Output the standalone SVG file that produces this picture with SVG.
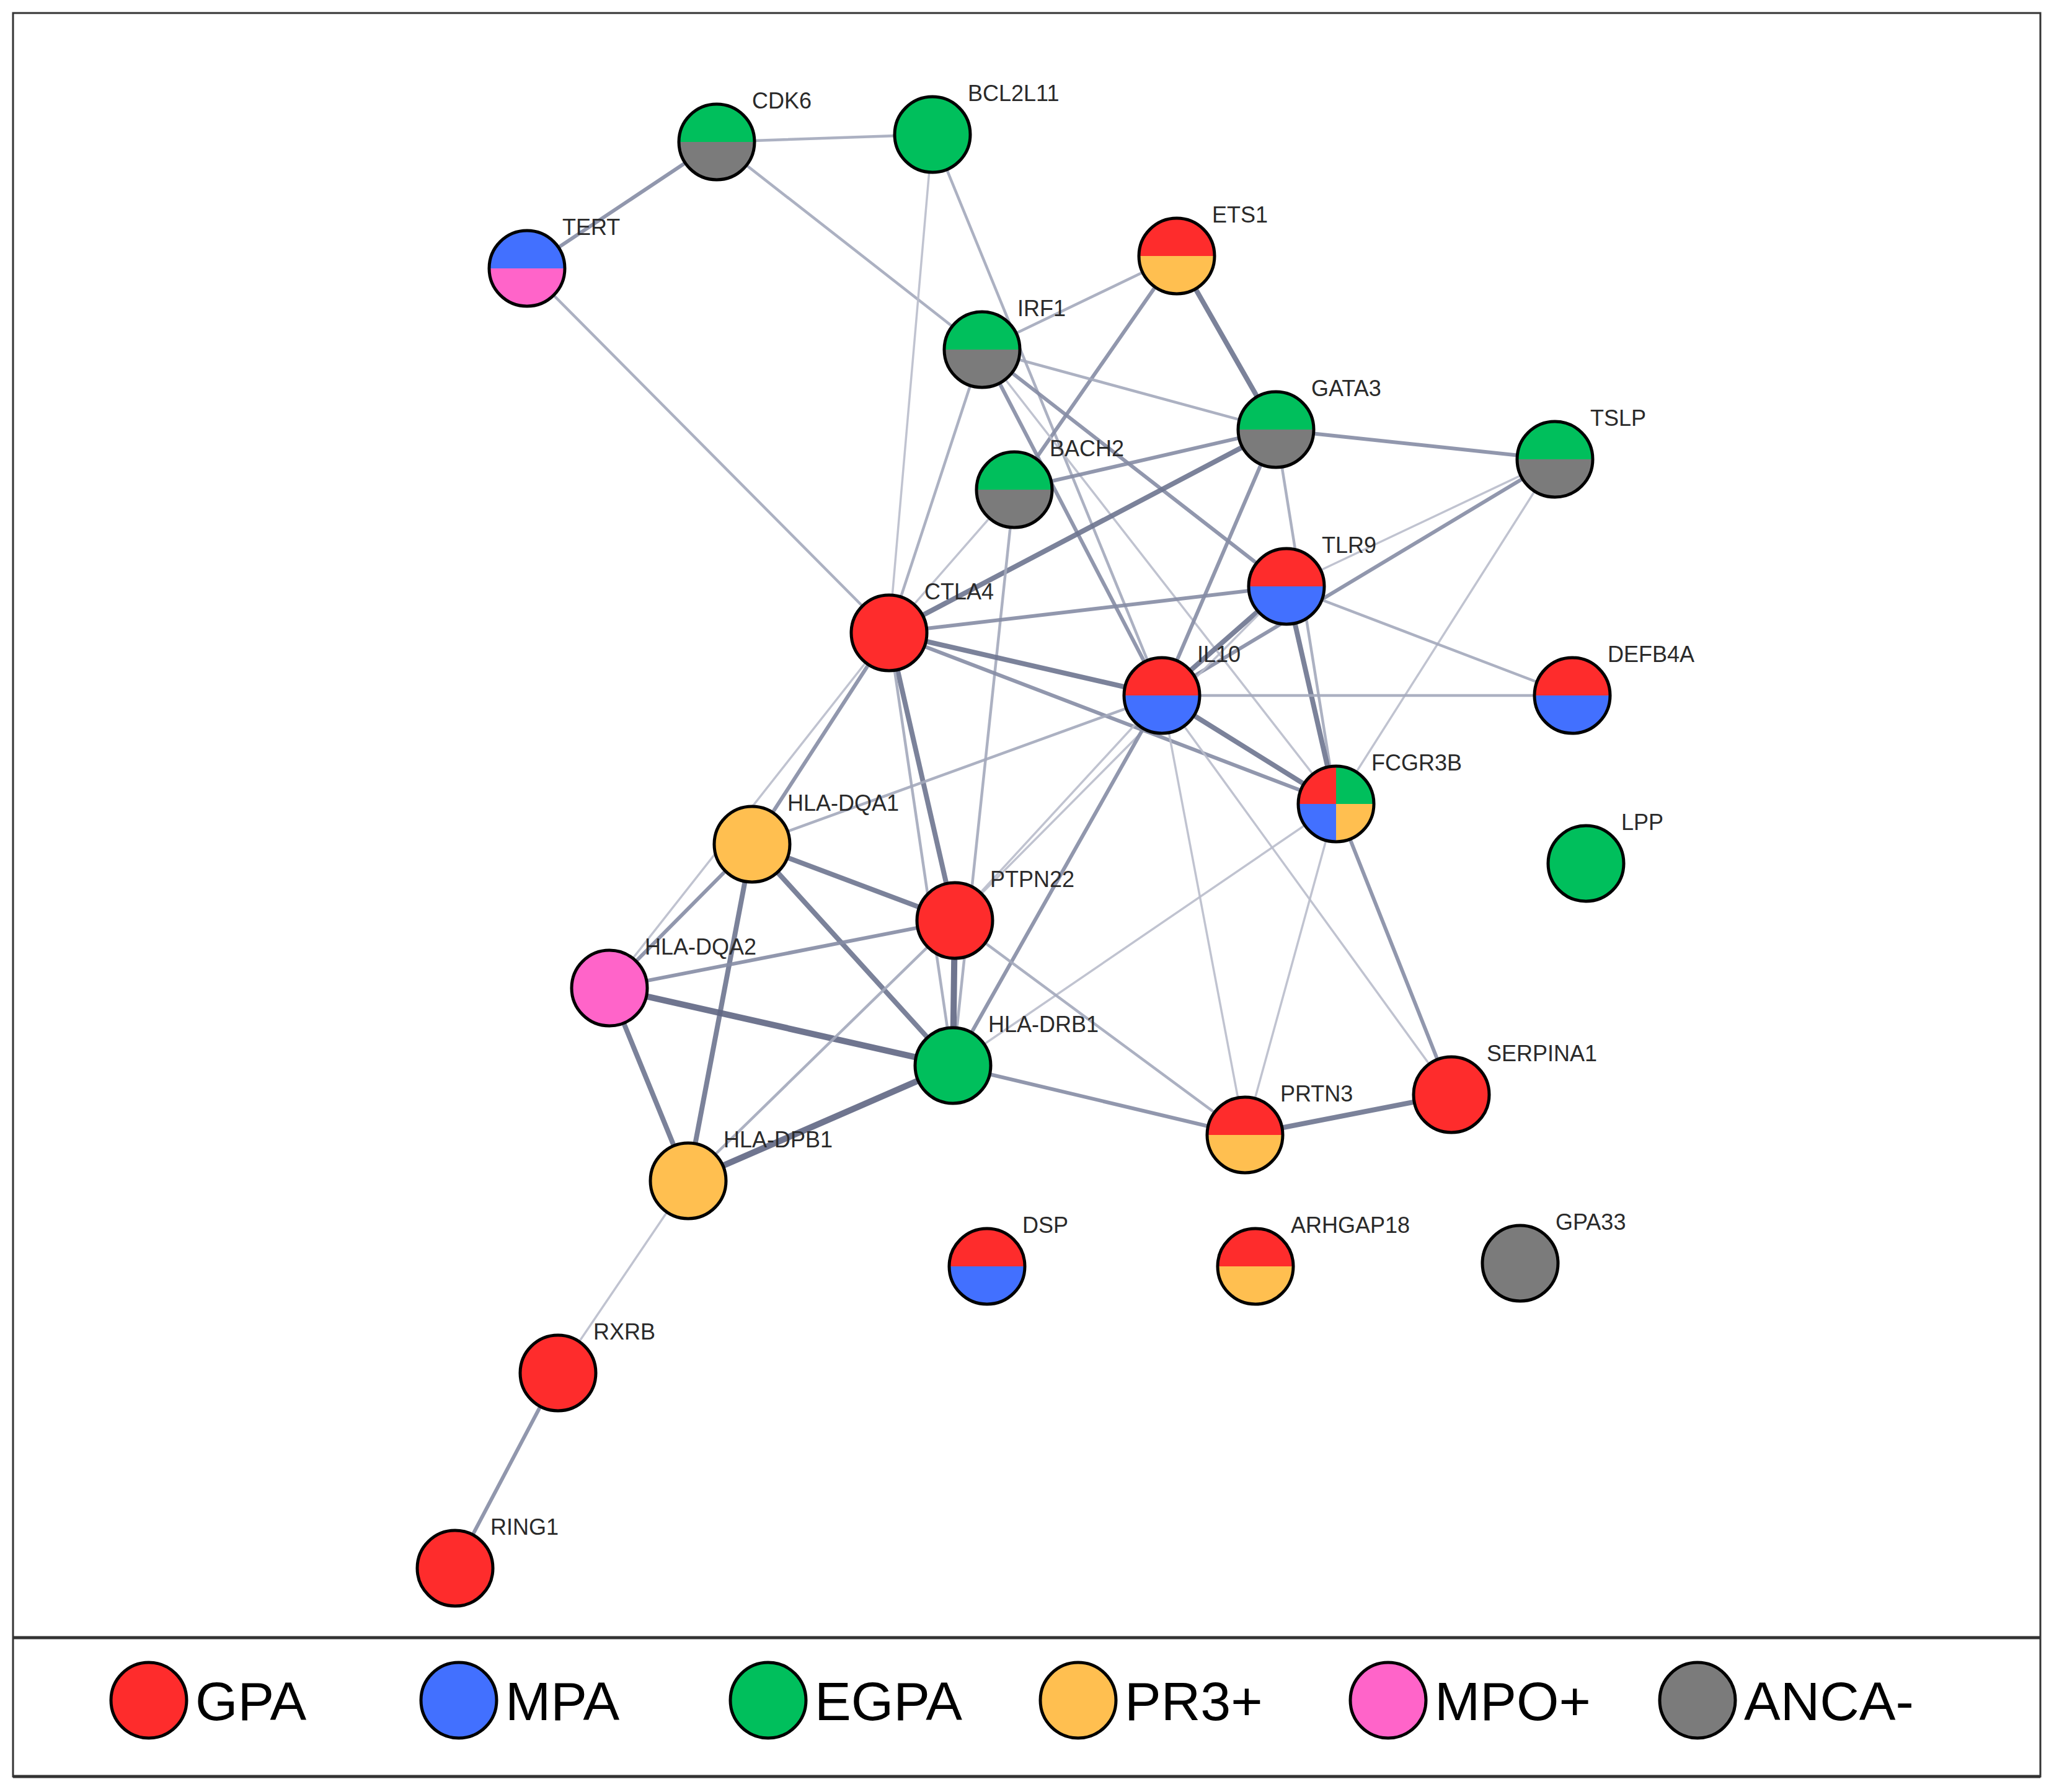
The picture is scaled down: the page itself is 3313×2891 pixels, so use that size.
<svg xmlns="http://www.w3.org/2000/svg" xmlns:xlink="http://www.w3.org/1999/xlink" width="3313" height="2891" viewBox="0 0 3313 2891">
<style>
.e{fill:none;stroke-linecap:round}
.e1{stroke:#b9bdcb;stroke-width:3.5;stroke-opacity:.9}
.e2{stroke:#a3a9bb;stroke-width:4.5;stroke-opacity:.9}
.e3{stroke:#858ca4;stroke-width:6;stroke-opacity:.9}
.e4{stroke:#6d748f;stroke-width:8;stroke-opacity:.9}
.e5{stroke:#5f6683;stroke-width:10;stroke-opacity:.9}
.ring{fill:none;stroke:#000;stroke-width:5}
.lbl{font-family:"Liberation Sans",Arial,sans-serif;font-size:36px;fill:#2a2a2a}
.leg{font-family:"Liberation Sans",Arial,sans-serif;font-size:88px;fill:#000}
.gpa{fill:#fe2c2c}.mpa{fill:#4270ff}.egpa{fill:#00bf5c}.pr3{fill:#ffbf50}.mpo{fill:#ff64c9}.anca{fill:#7b7b7b}
</style>
<defs>
<path id="ht" d="M-61,0 A61,61 0 0 1 61,0 Z"/>
<path id="hb" d="M-61,0 A61,61 0 0 0 61,0 Z"/>
<circle id="full" r="61"/>
<path id="qtl" d="M0,0 L-61,0 A61,61 0 0 1 0,-61 Z"/>
<path id="qtr" d="M0,0 L0,-61 A61,61 0 0 1 61,0 Z"/>
<path id="qbl" d="M0,0 L0,61 A61,61 0 0 1 -61,0 Z"/>
<path id="qbr" d="M0,0 L61,0 A61,61 0 0 1 0,61 Z"/>
</defs>
<rect x="0" y="0" width="3313" height="2891" fill="#fff"/>
<rect x="21" y="21" width="3270" height="2845" fill="none" stroke="#333" stroke-width="3"/>
<line x1="21" y1="2642" x2="3291" y2="2642" stroke="#333" stroke-width="5"/>
<line x1="21" y1="2866" x2="3291" y2="2866" stroke="#333" stroke-width="5"/>

<g id="connectors">
<line class="e e2" x1="1156" y1="229" x2="1504" y2="217"/>
<line class="e e3" x1="1156" y1="229" x2="850" y2="433"/>
<line class="e e2" x1="1156" y1="229" x2="1584" y2="564"/>
<line class="e e2" x1="850" y1="433" x2="1434" y2="1021"/>
<line class="e e1" x1="1504" y1="217" x2="1434" y2="1021"/>
<line class="e e2" x1="1504" y1="217" x2="1874" y2="1122"/>
<line class="e e2" x1="1898" y1="413" x2="1584" y2="564"/>
<line class="e e4" x1="1898" y1="413" x2="2058" y2="693"/>
<line class="e e3" x1="1898" y1="413" x2="1636" y2="790"/>
<line class="e e2" x1="1584" y1="564" x2="2058" y2="693"/>
<line class="e e3" x1="1584" y1="564" x2="2075" y2="946"/>
<line class="e e3" x1="1584" y1="564" x2="1874" y2="1122"/>
<line class="e e2" x1="1584" y1="564" x2="1434" y2="1021"/>
<line class="e e1" x1="1584" y1="564" x2="2155" y2="1297"/>
<line class="e e3" x1="2058" y1="693" x2="2508" y2="741"/>
<line class="e e3" x1="2058" y1="693" x2="1636" y2="790"/>
<line class="e e4" x1="2058" y1="693" x2="1434" y2="1021"/>
<line class="e e3" x1="2058" y1="693" x2="1874" y2="1122"/>
<line class="e e2" x1="2058" y1="693" x2="2155" y2="1297"/>
<line class="e e1" x1="2508" y1="741" x2="2075" y2="946"/>
<line class="e e3" x1="2508" y1="741" x2="1874" y2="1122"/>
<line class="e e1" x1="2508" y1="741" x2="2155" y2="1297"/>
<line class="e e1" x1="1636" y1="790" x2="1434" y2="1021"/>
<line class="e e2" x1="1636" y1="790" x2="1537" y2="1719"/>
<line class="e e3" x1="1434" y1="1021" x2="2075" y2="946"/>
<line class="e e4" x1="1434" y1="1021" x2="1874" y2="1122"/>
<line class="e e3" x1="1434" y1="1021" x2="2155" y2="1297"/>
<line class="e e4" x1="1434" y1="1021" x2="1540" y2="1485"/>
<line class="e e2" x1="1434" y1="1021" x2="1537" y2="1719"/>
<line class="e e3" x1="1434" y1="1021" x2="1213" y2="1362"/>
<line class="e e1" x1="1434" y1="1021" x2="983" y2="1594"/>
<line class="e e4" x1="2075" y1="946" x2="1874" y2="1122"/>
<line class="e e1" x1="2075" y1="946" x2="1540" y2="1485"/>
<line class="e e4" x1="2075" y1="946" x2="2155" y2="1297"/>
<line class="e e2" x1="2075" y1="946" x2="2536" y2="1122"/>
<line class="e e2" x1="1874" y1="1122" x2="2536" y2="1122"/>
<line class="e e4" x1="1874" y1="1122" x2="2155" y2="1297"/>
<line class="e e2" x1="1874" y1="1122" x2="1213" y2="1362"/>
<line class="e e1" x1="1874" y1="1122" x2="1540" y2="1485"/>
<line class="e e3" x1="1874" y1="1122" x2="1537" y2="1719"/>
<line class="e e1" x1="1874" y1="1122" x2="2008" y2="1831"/>
<line class="e e1" x1="1874" y1="1122" x2="2341" y2="1766"/>
<line class="e e3" x1="2155" y1="1297" x2="2341" y2="1766"/>
<line class="e e1" x1="2155" y1="1297" x2="2008" y2="1831"/>
<line class="e e1" x1="2155" y1="1297" x2="1537" y2="1719"/>
<line class="e e4" x1="1213" y1="1362" x2="1540" y2="1485"/>
<line class="e e4" x1="1213" y1="1362" x2="1537" y2="1719"/>
<line class="e e3" x1="1213" y1="1362" x2="983" y2="1594"/>
<line class="e e4" x1="1213" y1="1362" x2="1110" y2="1905"/>
<line class="e e3" x1="983" y1="1594" x2="1540" y2="1485"/>
<line class="e e5" x1="983" y1="1594" x2="1537" y2="1719"/>
<line class="e e4" x1="983" y1="1594" x2="1110" y2="1905"/>
<line class="e e5" x1="1540" y1="1485" x2="1537" y2="1719"/>
<line class="e e2" x1="1540" y1="1485" x2="1110" y2="1905"/>
<line class="e e2" x1="1540" y1="1485" x2="2008" y2="1831"/>
<line class="e e5" x1="1537" y1="1719" x2="1110" y2="1905"/>
<line class="e e3" x1="1537" y1="1719" x2="2008" y2="1831"/>
<line class="e e4" x1="2008" y1="1831" x2="2341" y2="1766"/>
<line class="e e1" x1="1110" y1="1905" x2="900" y2="2215"/>
<line class="e e3" x1="900" y1="2215" x2="734" y2="2530"/>
</g>

<g id="node-CDK6" transform="translate(1156,229)"><use href="#ht" class="egpa"/><use href="#hb" class="anca"/><circle class="ring" r="61"/><text class="lbl" x="57" y="-54">CDK6</text></g>
<g id="node-BCL2L11" transform="translate(1504,217)"><use href="#full" class="egpa"/><circle class="ring" r="61"/><text class="lbl" x="57" y="-54">BCL2L11</text></g>
<g id="node-TERT" transform="translate(850,433)"><use href="#ht" class="mpa"/><use href="#hb" class="mpo"/><circle class="ring" r="61"/><text class="lbl" x="57" y="-54">TERT</text></g>
<g id="node-ETS1" transform="translate(1898,413)"><use href="#ht" class="gpa"/><use href="#hb" class="pr3"/><circle class="ring" r="61"/><text class="lbl" x="57" y="-54">ETS1</text></g>
<g id="node-IRF1" transform="translate(1584,564)"><use href="#ht" class="egpa"/><use href="#hb" class="anca"/><circle class="ring" r="61"/><text class="lbl" x="57" y="-54">IRF1</text></g>
<g id="node-GATA3" transform="translate(2058,693)"><use href="#ht" class="egpa"/><use href="#hb" class="anca"/><circle class="ring" r="61"/><text class="lbl" x="57" y="-54">GATA3</text></g>
<g id="node-TSLP" transform="translate(2508,741)"><use href="#ht" class="egpa"/><use href="#hb" class="anca"/><circle class="ring" r="61"/><text class="lbl" x="57" y="-54">TSLP</text></g>
<g id="node-BACH2" transform="translate(1636,790)"><use href="#ht" class="egpa"/><use href="#hb" class="anca"/><circle class="ring" r="61"/><text class="lbl" x="57" y="-54">BACH2</text></g>
<g id="node-TLR9" transform="translate(2075,946)"><use href="#ht" class="gpa"/><use href="#hb" class="mpa"/><circle class="ring" r="61"/><text class="lbl" x="57" y="-54">TLR9</text></g>
<g id="node-CTLA4" transform="translate(1434,1021)"><use href="#full" class="gpa"/><circle class="ring" r="61"/><text class="lbl" x="57" y="-54">CTLA4</text></g>
<g id="node-IL10" transform="translate(1874,1122)"><use href="#ht" class="gpa"/><use href="#hb" class="mpa"/><circle class="ring" r="61"/><text class="lbl" x="57" y="-54">IL10</text></g>
<g id="node-DEFB4A" transform="translate(2536,1122)"><use href="#ht" class="gpa"/><use href="#hb" class="mpa"/><circle class="ring" r="61"/><text class="lbl" x="57" y="-54">DEFB4A</text></g>
<g id="node-FCGR3B" transform="translate(2155,1297)"><use href="#qtl" class="gpa"/><use href="#qtr" class="egpa"/><use href="#qbl" class="mpa"/><use href="#qbr" class="pr3"/><circle class="ring" r="61"/><text class="lbl" x="57" y="-54">FCGR3B</text></g>
<g id="node-LPP" transform="translate(2558,1393)"><use href="#full" class="egpa"/><circle class="ring" r="61"/><text class="lbl" x="57" y="-54">LPP</text></g>
<g id="node-HLA-DQA1" transform="translate(1213,1362)"><use href="#full" class="pr3"/><circle class="ring" r="61"/><text class="lbl" x="57" y="-54">HLA-DQA1</text></g>
<g id="node-PTPN22" transform="translate(1540,1485)"><use href="#full" class="gpa"/><circle class="ring" r="61"/><text class="lbl" x="57" y="-54">PTPN22</text></g>
<g id="node-HLA-DQA2" transform="translate(983,1594)"><use href="#full" class="mpo"/><circle class="ring" r="61"/><text class="lbl" x="57" y="-54">HLA-DQA2</text></g>
<g id="node-HLA-DRB1" transform="translate(1537,1719)"><use href="#full" class="egpa"/><circle class="ring" r="61"/><text class="lbl" x="57" y="-54">HLA-DRB1</text></g>
<g id="node-SERPINA1" transform="translate(2341,1766)"><use href="#full" class="gpa"/><circle class="ring" r="61"/><text class="lbl" x="57" y="-54">SERPINA1</text></g>
<g id="node-PRTN3" transform="translate(2008,1831)"><use href="#ht" class="gpa"/><use href="#hb" class="pr3"/><circle class="ring" r="61"/><text class="lbl" x="57" y="-54">PRTN3</text></g>
<g id="node-HLA-DPB1" transform="translate(1110,1905)"><use href="#full" class="pr3"/><circle class="ring" r="61"/><text class="lbl" x="57" y="-54">HLA-DPB1</text></g>
<g id="node-DSP" transform="translate(1592,2043)"><use href="#ht" class="gpa"/><use href="#hb" class="mpa"/><circle class="ring" r="61"/><text class="lbl" x="57" y="-54">DSP</text></g>
<g id="node-ARHGAP18" transform="translate(2025,2043)"><use href="#ht" class="gpa"/><use href="#hb" class="pr3"/><circle class="ring" r="61"/><text class="lbl" x="57" y="-54">ARHGAP18</text></g>
<g id="node-GPA33" transform="translate(2452,2038)"><use href="#full" class="anca"/><circle class="ring" r="61"/><text class="lbl" x="57" y="-54">GPA33</text></g>
<g id="node-RXRB" transform="translate(900,2215)"><use href="#full" class="gpa"/><circle class="ring" r="61"/><text class="lbl" x="57" y="-54">RXRB</text></g>
<g id="node-RING1" transform="translate(734,2530)"><use href="#full" class="gpa"/><circle class="ring" r="61"/><text class="lbl" x="57" y="-54">RING1</text></g>

<g id="legend">
<g id="leg-GPA" transform="translate(240,2743)"><use href="#full" class="gpa"/><circle class="ring" r="61"/><text class="leg" x="75" y="32">GPA</text></g>
<g id="leg-MPA" transform="translate(740,2743)"><use href="#full" class="mpa"/><circle class="ring" r="61"/><text class="leg" x="75" y="32">MPA</text></g>
<g id="leg-EGPA" transform="translate(1239,2743)"><use href="#full" class="egpa"/><circle class="ring" r="61"/><text class="leg" x="75" y="32">EGPA</text></g>
<g id="leg-PR3" transform="translate(1739,2743)"><use href="#full" class="pr3"/><circle class="ring" r="61"/><text class="leg" x="75" y="32">PR3+</text></g>
<g id="leg-MPO" transform="translate(2239,2743)"><use href="#full" class="mpo"/><circle class="ring" r="61"/><text class="leg" x="75" y="32">MPO+</text></g>
<g id="leg-ANCA" transform="translate(2738,2743)"><use href="#full" class="anca"/><circle class="ring" r="61"/><text class="leg" x="75" y="32">ANCA-</text></g>
</g>
</svg>
